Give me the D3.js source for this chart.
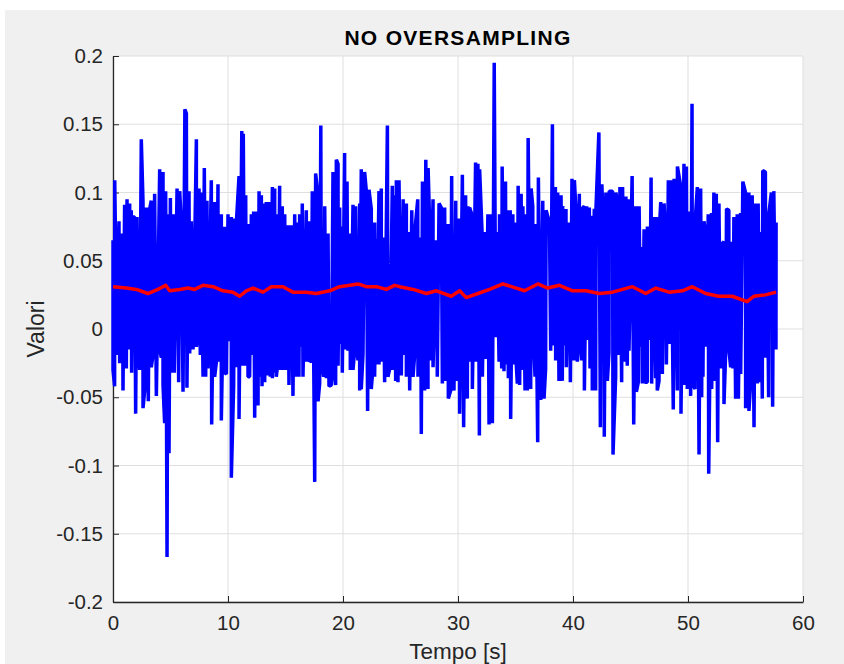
<!DOCTYPE html>
<html>
<head>
<meta charset="utf-8">
<script src="https://cdn.jsdelivr.net/npm/d3@7"></script>
<style>
  html, body { margin: 0; padding: 0; background: #ffffff; }
  svg { display: block; font-family: "Liberation Sans", Arial, Helvetica, sans-serif; }
  .tick text { fill: #262626; }
</style>
</head>
<body>
<svg id="chart"></svg>
<script>
// values
const title = 'NO OVERSAMPLING';
const xLabel = 'Tempo [s]';
const yLabel = 'Valori';
const xTicks = [0, 10, 20, 30, 40, 50, 60];
const yTicks = [-0.2, -0.15, -0.1, -0.05, 0, 0.05, 0.1, 0.15, 0.2];
const yTickLabels = ['-0.2', '-0.15', '-0.1', '-0.05', '0', '0.05', '0.1', '0.15', '0.2'];

// upper peaks of the blue signal [time s, value]
const upperPeaks = [
  [0.00,0.065],[0.15,0.109],[0.52,0.079],[0.81,0.070],[1.01,0.091],[1.22,0.095],[1.45,0.092],[1.59,0.087],[1.74,0.082],[1.88,0.082],
  [2.09,0.082],[2.46,0.139],[2.61,0.093],[2.90,0.089],[3.19,0.088],[3.33,0.094],[3.62,0.099],[4.06,0.117],[4.35,0.115],[4.58,0.101],
  [4.78,0.084],[4.99,0.096],[5.28,0.084],[5.57,0.103],[5.80,0.101],[5.94,0.077],[6.25,0.161],[6.38,0.158],[6.61,0.101],[6.81,0.079],
  [7.25,0.139],[7.48,0.103],[7.62,0.100],[7.94,0.118],[8.17,0.094],[8.55,0.109],[8.84,0.093],[9.13,0.106],[9.42,0.084],[9.71,0.075],
  [10.00,0.084],[10.29,0.082],[10.58,0.081],[10.72,0.077],[10.96,0.112],[11.20,0.145],[11.33,0.143],[11.54,0.098],[11.74,0.077],[12.03,0.084],
  [12.23,0.086],[12.46,0.086],[12.70,0.101],[12.90,0.098],[13.04,0.092],[13.33,0.093],[13.62,0.093],[13.86,0.104],[14.06,0.103],[14.20,0.084],
  [14.49,0.105],[14.72,0.090],[14.93,0.084],[15.22,0.076],[15.51,0.076],[15.80,0.084],[16.09,0.078],[16.23,0.084],[16.46,0.092],[16.81,0.087],
  [17.10,0.079],[17.33,0.101],[17.62,0.114],[17.83,0.098],[18.07,0.149],[18.41,0.090],[18.70,0.070],[19.13,0.115],[19.42,0.124],[19.57,0.121],
  [19.71,0.089],[19.86,0.075],[20.14,0.129],[20.35,0.108],[20.58,0.070],[20.87,0.091],[21.10,0.090],[21.45,0.092],[21.59,0.117],[21.88,0.115],
  [22.03,0.101],[22.26,0.102],[22.46,0.088],[22.75,0.078],[22.90,0.066],[23.13,0.101],[23.33,0.103],[23.48,0.067],[23.86,0.149],[24.29,0.105],
  [24.49,0.098],[24.64,0.109],[24.87,0.109],[25.23,0.095],[25.51,0.092],[25.66,0.071],[25.98,0.087],[26.24,0.071],[26.50,0.095],[26.73,0.067],
  [26.91,0.108],[27.20,0.124],[27.40,0.118],[27.54,0.076],[27.83,0.095],[28.12,0.065],[28.35,0.092],[28.55,0.089],[28.70,0.071],[28.84,0.089],
  [29.13,0.077],[29.45,0.112],[29.80,0.094],[30.09,0.081],[30.38,0.113],[30.66,0.098],[30.87,0.090],[31.01,0.089],[31.24,0.083],[31.53,0.122],
  [31.73,0.121],[31.88,0.117],[32.11,0.067],[32.31,0.071],[32.60,0.084],[32.80,0.084],[33.15,0.195],[33.38,0.071],[33.61,0.084],[33.84,0.119],
  [34.13,0.108],[34.25,0.087],[34.54,0.087],[34.77,0.084],[34.91,0.078],[35.23,0.105],[35.49,0.099],[35.64,0.090],[35.87,0.084],[36.10,0.140],
  [36.36,0.103],[36.50,0.090],[36.73,0.077],[36.99,0.111],[37.37,0.094],[37.66,0.087],[37.95,0.078],[38.21,0.150],[38.47,0.104],[38.67,0.100],
  [38.96,0.098],[39.10,0.090],[39.39,0.088],[39.68,0.078],[39.91,0.110],[40.12,0.109],[40.26,0.087],[40.55,0.099],[40.78,0.088],[40.98,0.090],
  [41.19,0.090],[41.42,0.089],[41.65,0.083],[41.85,0.088],[42.00,0.089],[42.25,0.144],[42.51,0.106],[42.72,0.057],[42.86,0.100],[43.15,0.101],
  [43.44,0.101],[43.73,0.100],[43.87,0.092],[44.08,0.104],[44.31,0.104],[44.60,0.097],[44.83,0.095],[45.14,0.112],[45.46,0.090],[45.75,0.090],
  [45.98,0.060],[46.18,0.073],[46.47,0.075],[46.79,0.111],[47.05,0.082],[47.25,0.082],[47.49,0.070],[47.63,0.093],[47.92,0.092],[48.06,0.062],
  [48.29,0.109],[48.50,0.109],[48.79,0.110],[49.08,0.119],[49.36,0.105],[49.65,0.121],[49.86,0.119],[50.09,0.086],[50.35,0.165],[50.66,0.084],
  [50.81,0.104],[51.10,0.103],[51.24,0.073],[51.39,0.079],[51.53,0.070],[51.76,0.084],[52.05,0.085],[52.25,0.100],[52.46,0.099],[52.69,0.092],
  [52.92,0.062],[53.12,0.064],[53.35,0.088],[53.55,0.087],[53.79,0.064],[53.99,0.082],[54.28,0.084],[54.57,0.085],[54.77,0.108],[55.00,0.100],
  [55.29,0.100],[55.58,0.098],[55.87,0.092],[56.10,0.092],[56.30,0.071],[56.50,0.116],[56.73,0.115],[56.88,0.068],[57.02,0.084],[57.25,0.100],
  [57.46,0.101],[57.66,0.078]
];

// lower troughs of the blue signal [time s, value]
const lowerPeaks = [
  [0.00,-0.030],[0.14,-0.042],[0.35,-0.019],[0.58,-0.025],[0.87,-0.045],[1.16,-0.029],[1.30,-0.006],[1.45,-0.015],[1.62,-0.032],[1.97,-0.062],
  [2.17,-0.015],[2.32,-0.030],[2.61,-0.058],[2.84,-0.038],[3.07,-0.053],[3.33,-0.028],[3.48,-0.019],[3.77,-0.049],[4.06,-0.015],[4.20,-0.021],
  [4.35,-0.041],[4.49,-0.069],[4.70,-0.167],[4.87,-0.091],[5.07,-0.032],[5.33,-0.032],[5.71,-0.039],[6.09,-0.046],[6.43,-0.043],[6.67,-0.018],
  [6.96,-0.015],[7.25,-0.013],[7.45,-0.002],[7.59,-0.019],[7.83,-0.035],[8.06,-0.035],[8.26,-0.029],[8.58,-0.070],[8.84,-0.035],[8.99,-0.024],
  [9.13,-0.024],[9.42,-0.067],[9.71,-0.032],[9.86,-0.033],[10.00,-0.009],[10.29,-0.109],[10.49,-0.042],[10.67,-0.028],[10.96,-0.066],[11.25,-0.027],
  [11.45,-0.027],[11.59,-0.019],[11.74,-0.035],[11.88,-0.035],[12.03,-0.019],[12.32,-0.065],[12.61,-0.056],[12.75,-0.035],[12.96,-0.042],[13.19,-0.039],
  [13.33,-0.022],[13.48,-0.034],[13.68,-0.035],[13.86,-0.036],[14.06,-0.032],[14.20,-0.035],[14.35,-0.024],[14.49,-0.030],[14.78,-0.030],[15.07,-0.030],
  [15.30,-0.041],[15.65,-0.049],[15.94,-0.035],[16.17,-0.035],[16.38,-0.013],[16.52,-0.035],[16.81,-0.024],[17.10,-0.024],[17.25,-0.023],[17.54,-0.112],
  [17.83,-0.053],[17.97,-0.040],[18.12,-0.022],[18.32,-0.035],[18.55,-0.036],[18.78,-0.042],[18.99,-0.041],[19.13,-0.026],[19.36,-0.041],[19.57,-0.027],
  [19.77,-0.011],[19.94,-0.032],[20.14,-0.015],[20.43,-0.016],[20.64,-0.030],[20.87,-0.030],[21.01,-0.016],[21.16,-0.007],[21.30,-0.023],[21.45,-0.045],
  [21.59,-0.044],[21.74,-0.018],[22.14,-0.060],[22.46,-0.044],[22.61,-0.028],[22.75,-0.035],[22.90,-0.026],[23.13,-0.026],[23.33,-0.024],[23.62,-0.039],
  [23.91,-0.035],[24.06,-0.029],[24.29,-0.030],[24.58,-0.038],[24.78,-0.039],[25.07,-0.034],[25.28,-0.019],[25.51,-0.035],[25.80,-0.045],[26.09,-0.035],
  [26.23,-0.019],[26.52,-0.035],[26.81,-0.077],[27.10,-0.045],[27.39,-0.044],[27.54,-0.023],[27.83,-0.028],[28.20,-0.035],[28.64,-0.040],[28.93,-0.038],
  [29.16,-0.051],[29.36,-0.045],[29.51,-0.038],[29.65,-0.045],[29.86,-0.038],[30.14,-0.062],[30.49,-0.072],[30.81,-0.051],[30.96,-0.024],[31.25,-0.044],
  [31.54,-0.024],[31.86,-0.078],[32.12,-0.035],[32.41,-0.022],[32.70,-0.070],[32.99,-0.069],[33.28,-0.006],[33.57,-0.024],[33.80,-0.029],[34.00,-0.031],
  [34.20,-0.026],[34.38,-0.036],[34.58,-0.066],[34.78,-0.026],[34.96,-0.010],[35.16,-0.040],[35.36,-0.041],[35.59,-0.030],[35.83,-0.045],[36.03,-0.045],
  [36.32,-0.044],[36.52,0.000],[36.70,-0.035],[36.93,-0.083],[37.19,-0.052],[37.48,-0.051],[37.62,-0.029],[38.06,-0.016],[38.26,-0.012],[38.49,-0.023],
  [38.78,-0.038],[39.07,-0.038],[39.30,-0.012],[39.42,-0.028],[39.77,-0.039],[40.09,-0.023],[40.38,-0.024],[40.58,-0.008],[40.75,-0.023],[40.99,-0.045],
  [41.33,-0.008],[41.48,-0.029],[41.68,-0.045],[41.97,-0.045],[42.38,-0.072],[42.72,-0.079],[42.99,-0.038],[43.13,-0.017],[43.48,-0.092],[43.71,-0.035],
  [44.00,-0.019],[44.23,-0.039],[44.52,-0.024],[44.72,-0.027],[44.87,-0.016],[45.28,-0.070],[45.51,-0.046],[45.68,-0.039],[45.88,-0.013],[46.03,-0.040],
  [46.26,-0.039],[46.46,-0.039],[46.67,-0.008],[46.84,-0.040],[47.19,-0.036],[47.33,-0.045],[47.48,-0.038],[47.77,-0.033],[48.12,-0.026],[48.35,-0.011],
  [48.72,-0.059],[49.07,-0.045],[49.39,-0.062],[49.65,-0.041],[49.94,-0.044],[50.23,-0.049],[50.38,-0.040],[50.61,-0.044],[50.96,-0.092],[51.19,-0.050],
  [51.30,-0.035],[51.54,-0.013],[51.80,-0.106],[52.06,-0.044],[52.26,-0.038],[52.58,-0.083],[52.84,-0.029],[53.13,-0.055],[53.28,-0.016],[53.57,-0.016],
  [53.71,-0.028],[53.91,-0.029],[54.14,-0.051],[54.38,-0.051],[54.58,-0.033],[55.01,-0.058],[55.30,-0.060],[55.45,-0.039],[55.74,-0.072],[56.03,-0.040],
  [56.23,-0.039],[56.46,-0.051],[56.75,-0.021],[57.01,-0.050],[57.36,-0.057],[57.65,-0.015]
];

// red moving average [time s, value]
const meanLine = [
  [0.00,0.031],[1.16,0.030],[2.03,0.029],[3.04,0.026],[3.91,0.029],[4.58,0.032],[4.93,0.028],[5.80,0.029],[6.52,0.030],[7.10,0.029],
  [7.83,0.032],[8.70,0.031],[9.57,0.028],[10.43,0.027],[11.01,0.024],[11.59,0.028],[12.17,0.030],[13.04,0.027],[13.77,0.031],[14.78,0.031],
  [15.65,0.027],[16.81,0.027],[17.68,0.026],[18.84,0.028],[19.71,0.031],[21.30,0.033],[22.03,0.031],[22.90,0.031],[23.77,0.029],[24.49,0.032],
  [24.93,0.031],[26.10,0.029],[27.25,0.026],[28.12,0.028],[29.42,0.024],[30.14,0.028],[30.72,0.023],[31.73,0.026],[32.75,0.029],[33.90,0.033],
  [35.06,0.030],[35.78,0.028],[36.94,0.033],[37.80,0.030],[38.82,0.032],[39.97,0.028],[41.13,0.028],[42.28,0.026],[43.44,0.027],[45.17,0.031],
  [46.33,0.026],[47.20,0.030],[48.35,0.027],[49.51,0.028],[50.38,0.031],[51.53,0.026],[52.69,0.024],[53.84,0.024],[55.14,0.020],[55.72,0.024],
  [56.73,0.025],[57.66,0.027]
];

const svgWidth = 844;
const svgHeight = 664;
const margin = { top: 56, right: 41, bottom: 62, left: 113 };
const chartWidth = svgWidth - margin.left - margin.right;
const chartHeight = svgHeight - margin.top - margin.bottom;

const svg = d3.select('#chart')
  .attr('width', svgWidth)
  .attr('height', svgHeight);

// figure background
svg.append('rect')
  .attr('x', 5).attr('y', 10)
  .attr('width', svgWidth - 5).attr('height', svgHeight - 10)
  .attr('fill', '#f0f0f0');

const g = svg.append('g')
  .attr('transform', `translate(${margin.left},${margin.top})`);

g.append('rect')
  .attr('width', chartWidth)
  .attr('height', chartHeight)
  .attr('fill', '#ffffff');

const xScale = d3.scaleLinear().domain([0, 60]).range([0, chartWidth]);
const yScale = d3.scaleLinear().domain([-0.2, 0.2]).range([chartHeight, 0]);

// grid
g.append('g')
  .selectAll('line')
  .data(xTicks)
  .enter().append('line')
  .attr('x1', d => xScale(d)).attr('x2', d => xScale(d))
  .attr('y1', 0).attr('y2', chartHeight)
  .attr('stroke', '#dfdfdf').attr('stroke-width', 1);

g.append('g')
  .selectAll('line')
  .data(yTicks)
  .enter().append('line')
  .attr('x1', 0).attr('x2', chartWidth)
  .attr('y1', d => yScale(d)).attr('y2', d => yScale(d))
  .attr('stroke', '#dfdfdf').attr('stroke-width', 1);

// axes (ticks inside, like MATLAB)
const xAxis = d3.axisBottom(xScale)
  .tickValues(xTicks)
  .tickFormat(d3.format('d'))
  .tickSizeInner(-6)
  .tickSizeOuter(0)
  .tickPadding(13);

const yAxis = d3.axisLeft(yScale)
  .tickValues(yTicks)
  .tickFormat((d, i) => yTickLabels[i])
  .tickSizeInner(-6)
  .tickSizeOuter(0)
  .tickPadding(10);

const xAxisG = g.append('g')
  .attr('transform', `translate(0,${chartHeight})`)
  .call(xAxis);

const yAxisG = g.append('g')
  .call(yAxis);

[xAxisG, yAxisG].forEach(a => {
  a.selectAll('path.domain').attr('stroke', '#262626').attr('stroke-width', 1.3);
  a.selectAll('.tick line').attr('stroke', '#262626').attr('stroke-width', 1);
  a.selectAll('.tick text')
    .attr('font-size', '20.5px')
    .attr('font-family', '"Liberation Sans", Arial, Helvetica, sans-serif');
});

// blue signal: merge the upper and lower extremes in time order
const signal = upperPeaks.concat(lowerPeaks).sort((a, b) => a[0] - b[0]);

const line = d3.line()
  .x(d => xScale(d[0]))
  .y(d => yScale(d[1]));

g.append('path')
  .datum(signal)
  .attr('d', line)
  .attr('fill', 'none')
  .attr('stroke', '#0000ff')
  .attr('stroke-width', 3.5)
  .attr('stroke-linejoin', 'bevel');

g.append('path')
  .datum(meanLine)
  .attr('d', line)
  .attr('fill', 'none')
  .attr('stroke', '#ff0000')
  .attr('stroke-width', 3.5)
  .attr('stroke-linejoin', 'round');

// labels
svg.append('text')
  .attr('x', margin.left + chartWidth / 2)
  .attr('y', 45)
  .attr('text-anchor', 'middle')
  .attr('font-size', '21px')
  .attr('font-weight', 'bold')
  .attr('letter-spacing', '1.3px')
  .attr('fill', '#000000')
  .text(title);

svg.append('text')
  .attr('x', margin.left + chartWidth / 2)
  .attr('y', 659)
  .attr('text-anchor', 'middle')
  .attr('font-size', '22.5px')
  .attr('fill', '#262626')
  .text(xLabel);

svg.append('text')
  .attr('transform', `translate(44,${margin.top + chartHeight / 2}) rotate(-90)`)
  .attr('text-anchor', 'middle')
  .attr('font-size', '23px')
  .attr('fill', '#262626')
  .text(yLabel);
</script>
</body>
</html>
